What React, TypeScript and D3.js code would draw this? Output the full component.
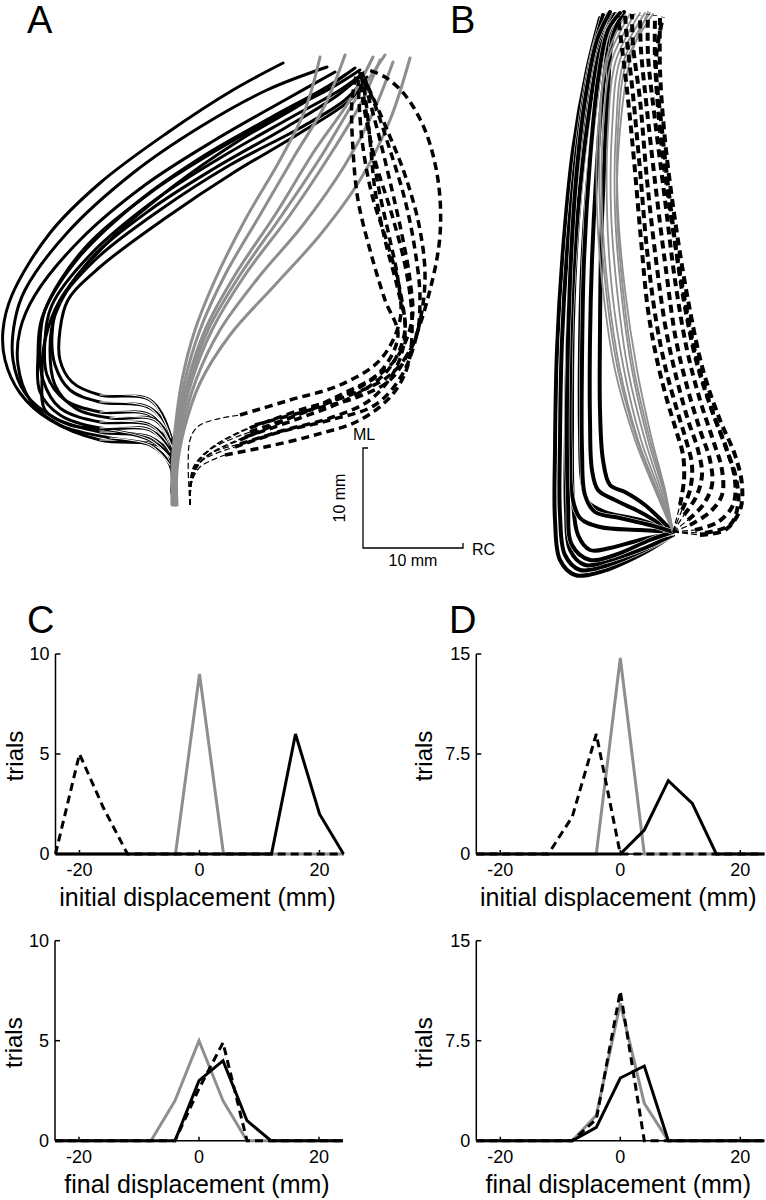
import React, { useEffect, useRef } from 'react';
import * as d3 from 'd3';

type Pt = [number, number];

// histogram bins (mm)
const bins = [-24, -20, -16, -12, -8, -4, 0, 4, 8, 12, 16, 20, 24];
const xTicks = [-20, 0, 20];
const cYTicks = [0, 5, 10];
const dYTicks = [0, 7.5, 15];

// C, initial displacement
const cInitialGray = [0, 0, 0, 0, 0, 0, 9, 0, 0, 0, 0, 0, 0];
const cInitialBlack = [0, 0, 0, 0, 0, 0, 0, 0, 0, 0, 6, 2, 0];
const cInitialDashed = [0, 5, 2.3, 0, 0, 0, 0, 0, 0, 0, 0, 0, 0];
// D, initial displacement
const dInitialGray = [0, 0, 0, 0, 0, 0, 14.7, 0, 0, 0, 0, 0, 0];
const dInitialBlack = [0, 0, 0, 0, 0, 0, 0, 1.8, 5.5, 3.8, 0, 0, 0];
const dInitialDashed = [0, 0, 0, 0, 2.8, 9, 0, 0, 0, 0, 0, 0, 0];
// C, final displacement
const cFinalGray = [0, 0, 0, 0, 0, 2, 5, 2, 0, 0, 0, 0, 0];
const cFinalBlack = [0, 0, 0, 0, 0, 0, 3, 4, 1, 0, 0, 0, 0];
const cFinalDashed = [0, 0, 0, 0, 0, 0, 2.6, 4.9, 0, 0, 0, 0, 0];
// D, final displacement
const dFinalGray = [0, 0, 0, 0, 0, 1.9, 10.3, 2.8, 0, 0, 0, 0, 0];
const dFinalBlack = [0, 0, 0, 0, 0, 1, 4.7, 5.6, 0, 0, 0, 0, 0];
const dFinalDashed = [0, 0, 0, 0, 0, 1.6, 11.2, 0, 0, 0, 0, 0, 0];

// A: trajectories in mm (RC, ML)
const aSolid: Pt[][] = [
  [[0.2,0.8],[0.2,3.8],[-1,5.4],[-7,6],[-12,8],[-15,10.7],[-16.5,14],[-16.7,17],[-15.8,20.5],[-12,26.7],[-7,31.7],[-0.3,36.7],[6.3,41],[11.3,43.7]],
  [[0.2,0.8],[0,4.5],[-2,6.3],[-7,6.8],[-11.5,8.2],[-14.5,10.7],[-15.7,14],[-15.5,18],[-14.5,21],[-10.3,26.7],[-3.7,32.7],[3,37.3],[9.7,41],[15.7,43.3]],
  [[0.2,0.8],[0.2,5],[-2,7.5],[-7,7.8],[-11,9.2],[-12.7,12],[-13,15.5],[-12.5,19],[-8.7,25],[-2,30.7],[4.7,35],[11.3,38.7],[16.3,41.3],[19,43]],
  [[0.2,0.8],[0,5.5],[-2,8.5],[-7,8.8],[-10.5,10],[-12.3,12.5],[-12.5,16],[-11.8,19.5],[-8,24.5],[-1.5,30],[5,34.2],[12,38.2],[17,41],[19.5,42.8]],
  [[0.2,0.8],[0.2,6],[-2,9.2],[-7,9.8],[-10,11],[-11.5,13.5],[-11.8,16.5],[-11.2,19.5],[-7.5,24],[-1,29],[6,33.5],[13,37.2],[17.5,40],[19.5,42.2]],
  [[0.2,0.8],[0.1,6.2],[-2,10],[-7,10.5],[-9.8,11.8],[-11,14],[-11,17],[-10.2,20],[-7,23.3],[-0.3,28.3],[6.3,32.7],[13,36.7],[18,40],[19.7,42.3]],
  [[0.2,0.8],[0.2,4],[-2,6],[-6,7],[-10,7.5],[-12.5,9],[-12.8,12],[-12.5,16],[-11,20],[-6,26],[0.5,31.5],[7,36],[13,39.5],[17.5,42.5]],
  [[0.2,0.8],[0,4.8],[-2,7],[-7,7.2],[-11,8.5],[-13,10.8],[-13.2,14.5],[-12.8,18.2],[-9.5,23.8],[-3,30],[3.5,34.5],[10,38.2],[16,41.5],[18.5,43.2]],
  [[0.2,0.8],[0.2,5.3],[-1.5,8],[-6,8.2],[-9.5,9.2],[-11.5,11.5],[-12,15],[-11.5,18.5],[-8.2,23.8],[-2,29],[4.5,33.2],[11.5,37.2],[16.8,40.5],[19.2,42.5]],
  [[0.2,0.8],[0,3.5],[-2,5.5],[-6,6.2],[-11,7.5],[-14,10],[-15.2,13.5],[-15,17],[-13.5,20.5],[-9,26],[-2.5,31.5],[4.5,36],[11.5,40],[16.5,42.8]],
];
const aGray: Pt[][] = [
  [[0.2,-0.5],[0.2,3],[0.5,7],[1.2,12],[2.5,17],[4.5,22],[7.5,28],[11,34],[13.5,39],[15,44.3]],
  [[0.3,-0.5],[0.3,3],[0.7,7],[1.5,12],[3,17],[5.5,22.5],[9,28.5],[12.5,34.5],[15.5,39.5],[17.5,44.5]],
  [[0.4,-0.5],[0.4,3],[0.8,7],[1.8,12],[3.5,17],[6.5,22.5],[10.5,28.5],[14.5,35],[18,40],[20.3,44.3]],
  [[0.5,-0.5],[0.5,3],[1,7],[2.2,12],[4.2,17],[7.5,22.5],[12,28.5],[16,34.5],[19,39.5],[21,44]],
  [[0.6,-0.5],[0.6,3],[1.2,7],[2.6,12],[5,17],[8.8,22.2],[13.3,27.5],[17.5,33.5],[20.2,38.5],[22.3,43.8]],
  [[0.7,-0.5],[0.7,3],[1.4,7],[3,11.7],[6,16.5],[10.5,21.5],[15,26.5],[19,32],[22,38],[24,44.2]],
  [[0.5,-0.5],[0.5,3],[0.9,7],[2,12],[3.8,17],[7,22.5],[11.2,28.5],[15.2,34.5],[18.5,40],[21.5,44.5]],
];
const aDashed: Pt[][] = [
  [[2,-0.5],[2.2,2.2],[3.5,4.2],[7,6],[12,8.2],[17,10.5],[21,12.8],[22.8,16.5],[21.5,20],[20,25],[18.8,30],[18.3,35],[18.2,40],[18.7,42.8]],
  [[2,-0.5],[2.2,2.5],[3.8,4.5],[7.5,6.3],[13,8.2],[18,10.2],[21.8,13],[23.5,17],[22.8,21],[21.5,26],[20.5,31],[20,36],[19.5,40.5],[19,43]],
  [[2,-0.5],[2.3,2.8],[4,5],[8,6.8],[13.5,8.8],[18.5,11],[22.5,14],[24.2,18],[24,22],[23.2,26.5],[22.2,31],[21,36],[19.8,40.5],[19.2,42.8]],
  [[2,-0.5],[2.3,3],[4.2,5.2],[8,7.2],[13,9],[18,10.5],[22,12.5],[24.5,16],[25,20],[24.5,25],[23.5,30],[22,35],[20.5,39.5],[19.3,42.5]],
  [[2,-0.5],[2.3,3.2],[4.5,5.5],[8.5,7.5],[14,9],[18.5,10.2],[22,12],[24.2,15.5],[26,21],[27,26.5],[26.8,32],[25.5,37],[23.5,40.5],[21.5,42.3],[19.8,43]],
  [[2,-0.5],[2.2,2],[3,3.8],[6.5,5.3],[11,6.8],[16,8],[20.5,9.5],[23.2,12.5],[24.8,17],[25.5,22],[25,27],[23.5,32.5],[21.5,37.5],[19.5,42]],
  [[2,-0.5],[2,6],[3,7.5],[7,8.5],[12,10],[17,11.5],[21,14],[23,18],[22.8,22],[22,26],[21,30.5],[20.2,35],[19.5,39.5],[19,42.5]],
  [[2,-0.5],[2.3,2.4],[3.6,4.4],[7,5.6],[11.5,7],[16,8.2],[20,10],[22.5,13],[23.5,16.5],[23,21],[21.8,25.5],[20.2,30.5],[19.2,36],[18.8,42]],
  [[2,-0.5],[2.1,1.5],[3,3.3],[5.5,4.5],[9.5,5.3],[14.5,6.5],[19,8],[22.2,10.5],[23.8,13.5],[24.2,18],[23.6,23],[22.2,28.5],[20.5,34],[19.2,40.5],[19,42.8]],
];

// B: trajectories in mm (RC, ML)
const bSolid: Pt[][] = [
  [[0.3,-0.5],[-3,-2.5],[-7,-4.2],[-9.5,-4.5],[-11,-3],[-11.5,1],[-11.5,8],[-11.3,18],[-10.7,28],[-9.7,38],[-8.3,46],[-7,51.2]],
  [[0.3,-0.5],[-3,-2.2],[-6.5,-3.6],[-9,-4],[-10.5,-2.5],[-11,1.5],[-11,9],[-10.8,19],[-10.2,29],[-9.2,39],[-8,46.5],[-6.7,51.5]],
  [[0.3,-0.5],[-2.5,-1.8],[-6,-3],[-8.5,-3.5],[-10,-2],[-10.4,2],[-10.4,10],[-10.2,20],[-9.6,30],[-8.7,39.5],[-7.5,47],[-6.2,51.6]],
  [[0.3,-0.3],[-3,-1],[-6,-1.8],[-8,-2],[-9.2,-0.5],[-9.7,3],[-9.8,11],[-9.7,21],[-9.2,31],[-8.3,40],[-7.2,47],[-5.8,51.5]],
  [[0.3,-0.2],[-3,0],[-7,0.3],[-9,1.2],[-9.8,3.5],[-10,8],[-10,15],[-9.8,23],[-9.2,32],[-8.2,41],[-7,48],[-5.5,51.6]],
  [[0.3,-0.2],[-3,1],[-6.5,1.8],[-8.2,2.8],[-8.8,5],[-9,10],[-9,18],[-8.8,26],[-8.3,34],[-7.5,42],[-6.5,48.5],[-5.2,51.6]],
  [[0.3,-0.2],[-3,1.8],[-5.5,3],[-7.2,4],[-7.8,6],[-8,11],[-8,19],[-7.8,27],[-7.4,35],[-6.8,43],[-6,49],[-4.8,51.7]],
  [[0.3,-0.2],[-2.5,2.5],[-4.5,3.8],[-6,4.5],[-6.7,7],[-7,12],[-7,20],[-6.9,28],[-6.6,36],[-6.2,44],[-5.7,49.5],[-4.6,51.8]],
  [[0.3,-0.2],[-2,-1],[-5.5,-2.5],[-8,-3],[-9.8,-1.5],[-10.2,3],[-10.3,13],[-10,25],[-9.4,35],[-8.5,43],[-7.3,49],[-6,51.8]],
  [[0.3,-0.2],[-2,0.5],[-5,1.2],[-7.5,1.8],[-8.5,3.5],[-8.8,8],[-8.8,17],[-8.6,27],[-8,37],[-7.2,45],[-6.2,50],[-5,51.7]],
];
const bGray: Pt[][] = [
  [[0.3,-0.2],[-1.5,4],[-3.5,9],[-5.5,16],[-6.7,24],[-7.3,32],[-7.2,40],[-6.2,47],[-4,51.6]],
  [[0.3,-0.2],[-1.3,4],[-3.2,9],[-5,16],[-6.2,24],[-6.8,32],[-6.7,40],[-5.8,47],[-3.5,51.6]],
  [[0.3,-0.2],[-1.1,4],[-2.9,9],[-4.6,16],[-5.8,24],[-6.3,32],[-6.2,40],[-5.4,47],[-3,51.7]],
  [[0.3,-0.2],[-0.9,4],[-2.5,9],[-4.2,16],[-5.3,24],[-5.9,32],[-5.8,40],[-5,47],[-2.5,51.7]],
  [[0.3,-0.2],[-0.7,4],[-2.2,9],[-3.8,16],[-4.9,24],[-5.5,32],[-5.4,40],[-4.6,47],[-2,51.7]],
  [[0.3,-0.2],[-0.5,4],[-1.8,9],[-3.3,16],[-4.5,24],[-5.2,32],[-5.2,40],[-4.3,47],[-1.7,51.6]],
  [[0.3,-0.2],[-1.4,4],[-3.3,9],[-5.2,16],[-6.4,24],[-7,32],[-7,40],[-6.4,47],[-4.5,51.5]],
  [[0.3,-0.2],[-0.6,4],[-2,9],[-3.6,16],[-4.7,24],[-5.3,32],[-5,40],[-4,47],[-2.2,51.8]],
];
const bDashed: Pt[][] = [
  [[0.3,-0.2],[3,-0.5],[5.5,0],[7,2],[7.2,4.5],[6.5,7.5],[5,11],[3.3,16],[1.8,23],[0.5,31],[-0.5,39],[-1,46],[-1,51.2]],
  [[0.3,-0.2],[2.5,0],[4.8,0.8],[6.3,2.5],[6.5,5],[5.7,8],[4.2,12],[2.7,17],[1.3,24],[0,32],[-1,40],[-1.5,47],[-1.5,51.5]],
  [[0.3,-0.2],[2,0.5],[4,1.8],[5.2,3.5],[5.2,6],[4.3,9],[3,13],[1.7,18],[0.5,25],[-0.5,33],[-1.5,41],[-2.2,47.5],[-2.2,51.6]],
  [[0.3,-0.2],[1.8,1],[3.3,2.5],[4.2,4.5],[4,7],[3,10],[1.8,14],[0.6,19],[-0.4,26],[-1.4,34],[-2.3,42],[-2.9,48],[-3,51.5]],
  [[0.3,-0.2],[1.4,1.5],[2.6,3.3],[3.2,5.5],[2.8,8],[1.8,11],[0.7,15],[-0.4,20],[-1.4,27],[-2.3,35],[-3,43],[-3.7,48.5],[-3.8,51.6]],
  [[0.3,-0.2],[1.2,2],[2,4],[2.2,6.5],[1.6,9],[0.7,12],[-0.4,16],[-1.4,21],[-2.3,28],[-3,36],[-3.7,43.5],[-4.3,49],[-4.5,51.5]],
  [[0.3,-0.2],[1,2.5],[1.4,5],[1.3,7.5],[0.6,10],[-0.3,13],[-1.3,17],[-2.2,22],[-2.9,29],[-3.6,37],[-4.3,44],[-4.9,49],[-5.2,51.4]],
  [[0.3,-0.2],[3.5,-0.3],[6,0.5],[6.8,2.5],[6.6,5.2],[5.6,8.2],[4.1,12.2],[2.6,17],[1.2,24],[0.1,32],[-0.8,40],[-1.4,47],[-0.7,51.3]],
];

const FONT = '"Liberation Sans", Arial, Helvetica, sans-serif';
const GRAY = '#8e8e8e';

const App = () => {
  const ref = useRef<SVGSVGElement>(null);

  const graph = () => {
    const svg = d3.select(ref.current);
    svg.selectAll('*').remove();

    // ---------- trajectory panels ----------
    const trajPanel = (ox: number, oy: number, solid: Pt[][], gray: Pt[][], dashed: Pt[][], opt: any) => {
      const x = d3.scaleLinear().domain([0, 10]).range([ox, ox + 100]);
      const y = d3.scaleLinear().domain([0, 10]).range([oy, oy - 100]);
      const line = d3.line<Pt>().x(d => x(d[0])).y(d => y(d[1])).curve(d3.curveCatmullRom.alpha(0.5));
      const g = svg.append('g').attr('fill', 'none').attr('stroke-linecap', 'round').attr('stroke-linejoin', 'round');

      solid.forEach(t => {
        if (opt.halo) {
          g.append('path').attr('d', line(t)).attr('stroke', '#fff').attr('stroke-width', opt.solidW + 1);
        }
        g.append('path').attr('d', line(t)).attr('stroke', '#000').attr('stroke-width', opt.solidW);
        if (opt.outline) {
          g.append('path').attr('d', line(t.slice(1, 4))).attr('stroke', '#fff').attr('stroke-width', 1.1);
        }
      });
      gray.forEach(t => {
        g.append('path').attr('d', line(t)).attr('stroke', GRAY).attr('stroke-width', opt.grayW);
      });
      dashed.forEach(t => {
        g.append('path').attr('d', line(t.slice(0, opt.thin + 1)))
          .attr('stroke', '#000').attr('stroke-width', 1.2).attr('stroke-dasharray', '6 3').attr('stroke-linecap', 'butt');
        g.append('path').attr('d', line(t.slice(opt.thin)))
          .attr('stroke', '#000').attr('stroke-width', opt.dashW).attr('stroke-dasharray', opt.dash).attr('stroke-linecap', 'butt');
      });
      return { x, y };
    };

    const A = trajPanel(170, 500, aSolid, aGray, aDashed, { solidW: 3, grayW: 3, dashW: 3.5, dash: '8 5', thin: 3, outline: true, halo: false });
    trajPanel(670, 530, bSolid, bGray, bDashed, { solidW: 4, grayW: 1.8, dashW: 4, dash: '8 5', thin: 1, outline: false, halo: true });

    // scale bar (10 mm each way)
    const sbX = 363, sbY = 548;
    const len = A.x(10) - A.x(0);
    const sb = svg.append('g').attr('stroke', '#000').attr('stroke-width', 1.3).attr('fill', 'none');
    sb.append('path').attr('d', `M${sbX + 5},${sbY - len}H${sbX}V${sbY}H${sbX + len}V${sbY - 5}`);
    const sbt = svg.append('g').attr('font-family', FONT).attr('font-size', 16).attr('fill', '#000');
    sbt.append('text').attr('x', sbX - 10).attr('y', sbY - len - 8).text('ML');
    sbt.append('text').attr('x', sbX + len + 9).attr('y', sbY + 7).text('RC');
    sbt.append('text').attr('x', sbX + len / 2).attr('y', sbY + 18).attr('text-anchor', 'middle').text('10 mm');
    sbt.append('text').attr('transform', `translate(${sbX - 18},${sbY - len / 2}) rotate(-90)`)
      .attr('text-anchor', 'middle').text('10 mm');

    // ---------- histograms ----------
    const hist = (o: any) => {
      const x = d3.scaleLinear().domain([-24, 24]).range([o.x0 - 144, o.x0 + 144]);
      const y = d3.scaleLinear().domain([0, o.yMax]).range([o.y0, o.y0 - 200]);
      const g = svg.append('g');
      const ax = g.append('g').attr('stroke', '#000').attr('stroke-width', 1.5).attr('fill', 'none');
      ax.append('line').attr('x1', x(-24)).attr('x2', x(-24)).attr('y1', y(0)).attr('y2', y(o.yMax));
      ax.append('line').attr('x1', x(-24)).attr('x2', x(24)).attr('y1', y(0)).attr('y2', y(0));
      o.yTicks.forEach((t: number) => {
        ax.append('line').attr('x1', x(-24)).attr('x2', x(-24) + 5).attr('y1', y(t)).attr('y2', y(t));
      });
      xTicks.forEach(t => {
        ax.append('line').attr('x1', x(t)).attr('x2', x(t)).attr('y1', y(0)).attr('y2', y(0) - 4);
      });

      const tx = g.append('g').attr('font-family', FONT).attr('fill', '#000');
      o.yTicks.forEach((t: number) => {
        tx.append('text').attr('x', x(-24) - 6).attr('y', y(t)).attr('dy', '0.36em')
          .attr('text-anchor', 'end').attr('font-size', 18).text(String(t));
      });
      xTicks.forEach(t => {
        tx.append('text').attr('x', x(t)).attr('y', y(0) + 22).attr('text-anchor', 'middle')
          .attr('font-size', 18).text(String(t));
      });
      tx.append('text').attr('x', x(0) - 2).attr('y', y(0) + 52).attr('text-anchor', 'middle')
        .attr('font-size', 25).text(o.xLabel);
      tx.append('text').attr('transform', `translate(${x(-24) - o.yLabelOff},${y(o.yMax / 2) + 2}) rotate(-90)`)
        .attr('text-anchor', 'middle').attr('font-size', 24).text('trials');

      const line = d3.line<number>().x((d, i) => x(bins[i])).y(d => y(d));
      const lg = g.append('g').attr('fill', 'none').attr('stroke-width', 3).attr('stroke-linejoin', 'miter');
      lg.append('path').attr('d', line(o.gray)).attr('stroke', GRAY);
      lg.append('path').attr('d', line(o.black)).attr('stroke', '#000');
      lg.append('path').attr('d', line(o.dashed)).attr('stroke', '#000').attr('stroke-dasharray', '8 5');
    };

    hist({ x0: 199.5, y0: 854, yMax: 10, yTicks: cYTicks, yLabelOff: 33, xLabel: 'initial displacement (mm)',
      gray: cInitialGray, black: cInitialBlack, dashed: cInitialDashed });
    hist({ x0: 620.3, y0: 854, yMax: 15, yTicks: dYTicks, yLabelOff: 44, xLabel: 'initial displacement (mm)',
      gray: dInitialGray, black: dInitialBlack, dashed: dInitialDashed });
    hist({ x0: 199, y0: 1140.7, yMax: 10, yTicks: cYTicks, yLabelOff: 33, xLabel: 'final displacement (mm)',
      gray: cFinalGray, black: cFinalBlack, dashed: cFinalDashed });
    hist({ x0: 620.3, y0: 1140.7, yMax: 15, yTicks: dYTicks, yLabelOff: 44, xLabel: 'final displacement (mm)',
      gray: dFinalGray, black: dFinalBlack, dashed: dFinalDashed });

    // panel letters
    const letters: [string, number, number][] = [['A', 27, 33], ['B', 450, 33], ['C', 27, 633], ['D', 449, 633]];
    svg.append('g').attr('font-family', FONT).attr('font-size', 38).attr('fill', '#000')
      .selectAll('text').data(letters).enter().append('text')
      .attr('x', d => d[1]).attr('y', d => d[2]).text(d => d[0]);
  };

  useEffect(() => graph());

  return (
    <svg ref={ref} width="766" height="1200" style={{ position: 'absolute', left: 0, top: 0, background: '#fff' }} />
  );
};

export default App;
